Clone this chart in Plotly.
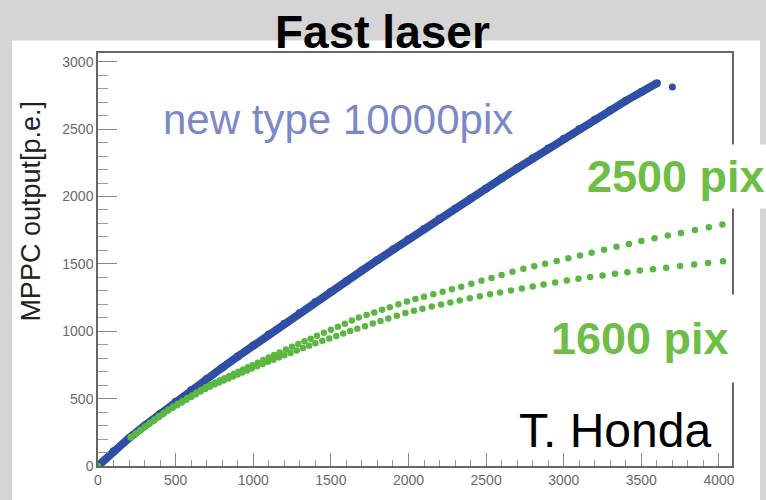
import plotly.graph_objects as go

# ---------------- data ----------------
blue_x = [0, 100, 200, 300, 400, 500, 600, 700, 800, 900, 1000, 1100, 1200, 1300, 1400,
          1500, 1600, 1700, 1800, 1900, 2000, 2100, 2200, 2300, 2400, 2500, 2600, 2700,
          2800, 2900, 3000, 3100, 3200, 3300, 3400, 3500, 3600]
blue_y = [0, 110, 207, 299, 388, 476, 562, 646, 730, 812, 894, 975, 1056, 1136, 1215,
          1294, 1372, 1450, 1528, 1606, 1682, 1758, 1834, 1910, 1985, 2060, 2135, 2209,
          2283, 2356, 2428, 2500, 2570, 2640, 2710, 2775, 2840]
blue_extra_x = [3700]
blue_extra_y = [2812]

g1600_x = [0, 210, 240, 270, 300, 330, 360, 390, 420, 450, 480, 510, 540, 570, 600, 630,
           660, 690, 720, 750, 780, 810, 840, 870, 900, 930, 960, 990, 1025, 1060, 1095,
           1130, 1165, 1200, 1240, 1280, 1320, 1360, 1400, 1445, 1490, 1535, 1580, 1625,
           1670, 1720, 1770, 1820, 1870, 1925, 1980, 2035, 2090, 2150, 2210, 2270, 2330,
           2395, 2460, 2525, 2590, 2660, 2730, 2800, 2870, 2945, 3020, 3095, 3170, 3250,
           3330, 3410, 3490, 3575, 3660, 3750, 3840, 3930, 4026]
g1600_y = [0, 212, 236, 261, 286, 311, 336, 361, 386, 410, 431, 451, 472, 492, 512, 532,
           552, 572, 589, 604, 619, 634, 649, 664, 679, 694, 709, 723, 740, 757, 773,
           789, 805, 821, 839, 857, 875, 893, 911, 929, 947, 965, 983, 1001,
           1019, 1038, 1057, 1076, 1095, 1115, 1135, 1152, 1167, 1183, 1199, 1214, 1229,
           1244, 1259, 1274, 1288, 1303, 1318, 1332, 1347, 1362, 1377, 1390, 1402, 1414,
           1426, 1438, 1450, 1461, 1472, 1484, 1495, 1507, 1519]

g2500_x = [215, 245, 275, 305, 335, 365, 395, 425, 455, 485, 515, 545, 575, 605, 635, 665,
           695, 725, 755, 785, 815, 845, 875, 905, 935, 965, 995, 1030, 1065, 1100, 1135,
           1170, 1210, 1250, 1290, 1330, 1370, 1410, 1455, 1500, 1545, 1590, 1635, 1680,
           1730, 1780, 1830, 1880, 1935, 1990, 2045, 2100, 2160, 2220, 2280, 2340, 2405,
           2470, 2535, 2600, 2670, 2740, 2810, 2880, 2955, 3030, 3105, 3180, 3260, 3340,
           3420, 3500, 3585, 3670, 3755, 3845, 3935, 4022]
g2500_y = [217, 243, 269, 295, 321, 346, 371, 396, 420, 441, 462, 483, 504, 524, 545, 566,
           587, 604, 620, 636, 652, 668, 684, 700, 716, 732, 748, 767, 786, 805, 824,
           843, 864, 885, 905, 925, 945, 966, 989, 1011, 1034, 1056, 1079, 1102,
           1121, 1140, 1159, 1178, 1200, 1221, 1240, 1256, 1275, 1293, 1311, 1330, 1352,
           1374, 1396, 1417, 1441, 1463, 1482, 1501, 1522, 1542, 1563, 1583, 1605, 1627,
           1648, 1670, 1690, 1710, 1730, 1751, 1772, 1793]

title_text = "Fast laser"
y_title = "MPPC output[p.e.]"
label_blue = "new type 10000pix"
label_2500 = "2500 pix"
label_1600 = "1600 pix"
author = "T. Honda"

# ---------------- styling ----------------
BLUE = "#2f4ea5"
GREEN = "#5ab842"
GREEN_TXT = "#6dbe45"
LAV = "#7b88c8"
FONT = "Liberation Sans, Arial, sans-serif"

L, R, T, B = 98, 34, 53, 20
PW, PH = 766 - L - R, 500 - T - B


def px(xp):
    return (xp - L) / PW


def py(yp):
    return (500 - B - yp) / PH


fig = go.Figure()
fig.add_trace(go.Scatter(x=blue_x, y=blue_y, mode="lines+markers",
                         line=dict(color=BLUE, width=8),
                         marker=dict(color=BLUE, size=8), showlegend=False))
fig.add_trace(go.Scatter(x=blue_extra_x, y=blue_extra_y, mode="markers",
                         marker=dict(color=BLUE, size=7), showlegend=False))
fig.add_trace(go.Scatter(x=g1600_x, y=g1600_y, mode="markers",
                         marker=dict(color=GREEN, size=6.5), showlegend=False))
fig.add_trace(go.Scatter(x=g2500_x, y=g2500_y, mode="markers",
                         marker=dict(color=GREEN, size=6.5), showlegend=False))

axis_common = dict(showgrid=False, zeroline=False, showline=True, mirror=True,
                   linecolor="#666666", linewidth=1.5, ticks="inside",
                   tickcolor="#888888", tickmode="linear", tick0=0, dtick=500,
                   tickfont=dict(family=FONT, size=14, color="#6a6a6a"))

fig.update_xaxes(range=[0, 4084], ticklen=13,
                 minor=dict(dtick=100, ticks="inside", ticklen=6, tickcolor="#999999"),
                 **axis_common)
fig.update_yaxes(range=[0, 3065], ticklen=19,
                 minor=dict(dtick=100, ticks="inside", ticklen=10, tickcolor="#999999"),
                 **axis_common)

annotations = [
    dict(text="<b>%s</b>" % title_text, x=px(382), y=py(31), xanchor="center",
         yanchor="middle", font=dict(family=FONT, size=46, color="black"),
         showarrow=False, xref="paper", yref="paper"),
    dict(text=y_title, x=px(31), y=py(217), xanchor="center", yanchor="middle",
         textangle=-90, font=dict(family=FONT, size=27, color="#222222"),
         showarrow=False, xref="paper", yref="paper"),
    dict(text=label_blue, x=px(161), y=py(122), xanchor="left", yanchor="middle",
         font=dict(family=FONT, size=42, color=LAV), showarrow=False,
         xref="paper", yref="paper"),
    dict(text="<b>%s</b>" % label_2500, x=px(580), y=py(181), xanchor="left",
         yanchor="middle", font=dict(family=FONT, size=45, color=GREEN_TXT),
         bgcolor="white", borderpad=6, showarrow=False, xref="paper", yref="paper"),
    dict(text="<b>%s</b>" % label_1600, x=px(532), y=py(348), xanchor="left",
         yanchor="middle", font=dict(family=FONT, size=45, color=GREEN_TXT),
         bgcolor="white", borderpad=18, showarrow=False, xref="paper", yref="paper"),
    dict(text=author, x=px(517), y=py(443), xanchor="left", yanchor="middle",
         font=dict(family=FONT, size=48, color="black"), showarrow=False,
         xref="paper", yref="paper"),
]

fig.update_layout(
    width=766, height=500,
    margin=dict(l=L, r=R, t=T, b=B),
    paper_bgcolor="#d5d5d5", plot_bgcolor="white",
    shapes=[dict(type="rect", xref="paper", yref="paper",
                 x0=px(12), x1=px(760), y0=py(540), y1=py(40),
                 fillcolor="white", line=dict(width=0), layer="below")],
    annotations=annotations,
)

fig.write_html("out.html")
